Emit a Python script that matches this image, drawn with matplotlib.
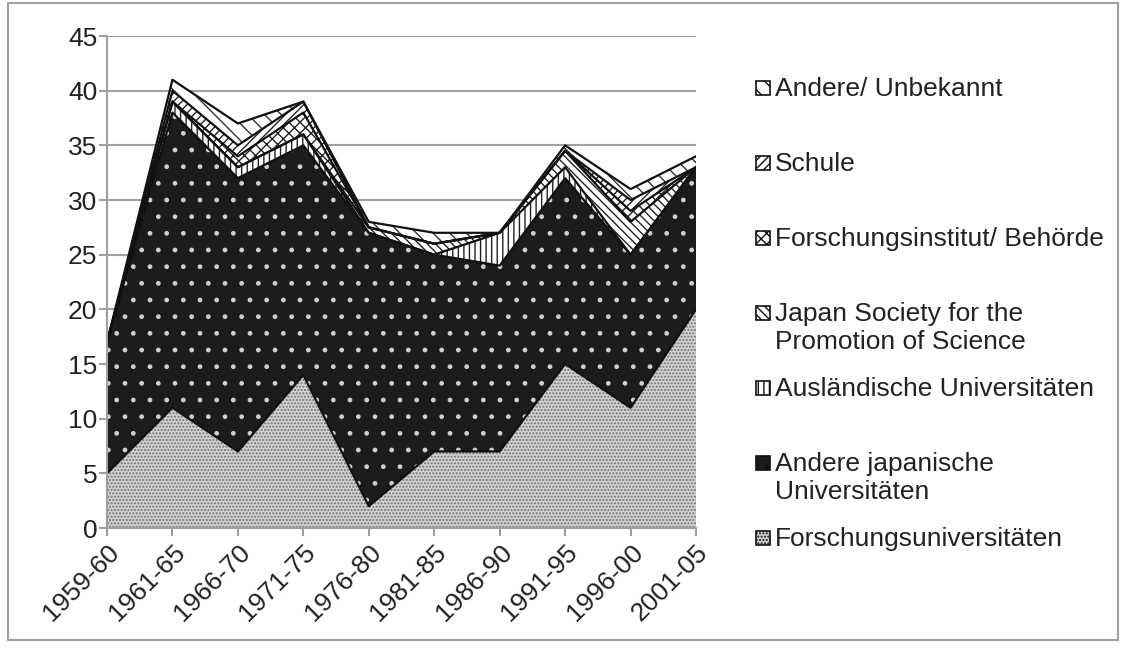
import matplotlib
matplotlib.use('Agg')
import matplotlib.pyplot as plt
from matplotlib.patches import Rectangle
import numpy as np

plt.rcParams['font.family'] = ['Liberation Sans', 'DejaVu Sans']
plt.rcParams['hatch.linewidth'] = 1.0

# data
categories = ['1959-60', '1961-65', '1966-70', '1971-75', '1976-80',
              '1981-85', '1986-90', '1991-95', '1996-00', '2001-05']
forschungsuni = [5, 11, 7, 14, 2, 7, 7, 15, 11, 20]
andere_jap = [12, 27, 25, 21, 25, 18, 17, 17, 14, 13]
auslaend = [0, 1, 1, 1, 0, 0, 3, 1, 0, 0]
jsps = [0, 0, 0, 0, 0.5, 1, 0, 1.5, 3, 0]
forsch_inst = [0, 0, 1, 2, 0, 0, 0, 0, 1, 0]
schule = [0, 1, 1, 1, 0, 0, 0, 0, 1, 0]
andere = [0, 1, 2, 0, 0.5, 1, 0, 0.5, 1, 1]

labels = ['Forschungsuniversitäten', 'Andere japanische\nUniversitäten',
          'Ausländische Universitäten', 'Japan Society for the\nPromotion of Science',
          'Forschungsinstitut/ Behörde', 'Schule', 'Andere/ Unbekannt']
series = [forschungsuni, andere_jap, auslaend, jsps, forsch_inst, schule, andere]

# fill styles: (facecolor, hatch, hatch colour)
styles = [('#d2d2d2', '.....', '#707070'),
          ('#1c1c1c', '.', '#d0d0d0'),
          ('white', '|||', '#222222'),
          ('white', '\\\\\\\\', '#222222'),
          ('white', 'xxx', '#222222'),
          ('white', '////', '#222222'),
          ('white', '\\\\', '#333333')]

W, H = 1124, 648
fig = plt.figure(figsize=(W / 100, H / 100), dpi=100)
ax = fig.add_axes([107 / W, 1 - 528 / H, (696 - 107) / W, (528 - 36) / H])

x = np.arange(len(categories))
base = np.zeros(len(categories))
for vals, (fc, hatch, hc) in zip(series, styles):
    top = base + np.array(vals, dtype=float)
    ax.fill_between(x, base, top, facecolor=fc, hatch=hatch, edgecolor=hc,
                    linewidth=0, zorder=2)
    base = top
# boundary lines
base = np.zeros(len(categories))
for vals in series:
    base = base + np.array(vals, dtype=float)
    ax.plot(x, base, color='#111111', linewidth=1.6, zorder=3)

ax.set_xlim(0, len(categories) - 1)
ax.set_ylim(0, 45)
ax.set_yticks(range(0, 46, 5))
ax.grid(axis='y', color='#a0a0a0', linewidth=1.5, zorder=0)
ax.set_axisbelow(True)
ax.set_xticks(x)
ax.set_xticklabels(categories, rotation=45, ha='right', rotation_mode='anchor')
ax.tick_params(axis='both', labelsize=19, labelcolor='#222222', color='#a0a0a0',
               width=1.5, length=6)
ax.tick_params(axis='y', pad=1)
ax.tick_params(axis='x', pad=3)
for s in ['top', 'right']:
    ax.spines[s].set_visible(False)
for s in ['left', 'bottom']:
    ax.spines[s].set_color('#a0a0a0')
    ax.spines[s].set_linewidth(1.5)
    ax.spines[s].set_zorder(4)

# legend, laid out like the original (top entry first)
legend_y = [538, 463, 388, 313, 238, 163, 88]
for lab, (fc, hatch, hc), yc in zip(labels, styles, legend_y):
    r = Rectangle((756 / W, 1 - (yc + 7) / H), 14 / W, 14 / H,
                  transform=fig.transFigure, facecolor=fc, hatch=hatch,
                  edgecolor='#111111', linewidth=1.2)
    fig.add_artist(r)
    fig.text(775 / W, 1 - (yc - 11) / H, lab, fontsize=19, color='#222222',
             va='top', ha='left')

# outer frame
fig.add_artist(Rectangle((8 / W, 1 - 640 / H), 1110 / W, 637 / H,
                         transform=fig.transFigure, fill=False,
                         edgecolor='#a0a0a0', linewidth=1.5))

fig.savefig('out.png', dpi=100)
